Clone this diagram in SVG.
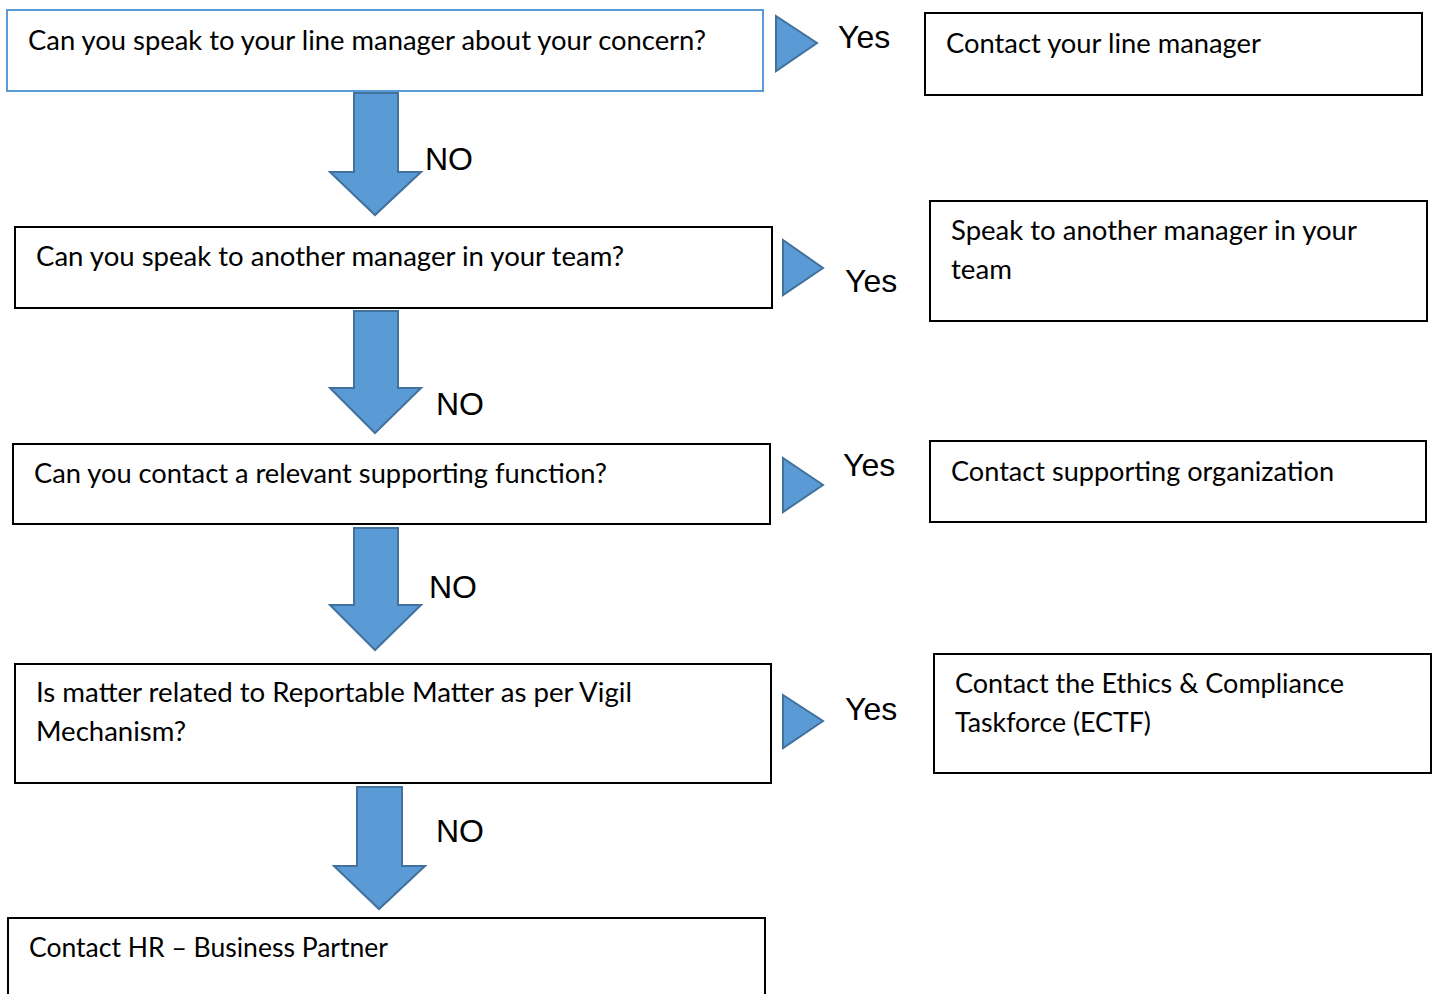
<svg xmlns="http://www.w3.org/2000/svg" width="1435" height="994" viewBox="0 0 1435 994">
<style>
.box{fill:#fff;stroke:#000;stroke-width:2}
.box1{fill:#fff;stroke:#5B9BD5;stroke-width:2}
.t{font-family:Lato,"Liberation Sans",sans-serif;font-size:26px;fill:#000}
.lbl{font-family:"Liberation Sans",Arial,sans-serif;font-size:32px;fill:#000}
.arr{fill:#5B9BD5;stroke:#41719C;stroke-width:2;stroke-linejoin:miter}
</style>
<rect width="1435" height="994" fill="#fff"/>
<g id="q1"><rect class="box1" x="7" y="10" width="756" height="81"/><text class="t" x="28" y="50" textLength="678" lengthAdjust="spacingAndGlyphs">Can you speak to your line manager about your concern?</text></g>
<g id="a1"><rect class="box" x="925" y="13" width="497" height="82"/><text class="t" x="946" y="53" textLength="315" lengthAdjust="spacingAndGlyphs">Contact your line manager</text></g>
<g id="q2"><rect class="box" x="15" y="227" width="757" height="81"/><text class="t" x="36" y="266" textLength="588" lengthAdjust="spacingAndGlyphs">Can you speak to another manager in your team?</text></g>
<g id="a2"><rect class="box" x="930" y="201" width="497" height="120"/><text class="t" x="951" y="240" textLength="406" lengthAdjust="spacingAndGlyphs">Speak to another manager in your</text><text class="t" x="951" y="279" textLength="61" lengthAdjust="spacingAndGlyphs">team</text></g>
<g id="q3"><rect class="box" x="13" y="444" width="757" height="80"/><text class="t" x="34" y="483" textLength="573" lengthAdjust="spacingAndGlyphs">Can you contact a relevant supporting function?</text></g>
<g id="a3"><rect class="box" x="930" y="441" width="496" height="81"/><text class="t" x="951" y="481" textLength="383" lengthAdjust="spacingAndGlyphs">Contact supporting organization</text></g>
<g id="q4"><rect class="box" x="15" y="664" width="756" height="119"/><text class="t" x="36" y="702" textLength="596" lengthAdjust="spacingAndGlyphs">Is matter related to Reportable Matter as per Vigil</text><text class="t" x="36" y="741" textLength="150" lengthAdjust="spacingAndGlyphs">Mechanism?</text></g>
<g id="a4"><rect class="box" x="934" y="654" width="497" height="119"/><text class="t" x="955" y="693" textLength="389" lengthAdjust="spacingAndGlyphs">Contact the Ethics &amp; Compliance</text><text class="t" x="955" y="732" textLength="196" lengthAdjust="spacingAndGlyphs">Taskforce (ECTF)</text></g>
<g id="q5"><rect class="box" x="8" y="918" width="757" height="90"/><text class="t" x="29" y="957" textLength="359" lengthAdjust="spacingAndGlyphs">Contact HR – Business Partner</text></g>
<g id="connectors">
<polygon class="arr" points="776,16 817,43 776,71"/>
<text class="lbl" x="838" y="48">Yes</text>
<polygon class="arr" points="783,240 823,268 783,295"/>
<text class="lbl" x="845" y="292">Yes</text>
<polygon class="arr" points="783,458 823,485 783,512"/>
<text class="lbl" x="843" y="476">Yes</text>
<polygon class="arr" points="783,695 823,721 783,748"/>
<text class="lbl" x="845" y="720">Yes</text>
<polygon class="arr" points="354,93 398,93 398,172 421,172 375,215 330,172 354,172"/>
<text class="lbl" x="425" y="170">NO</text>
<polygon class="arr" points="354,311 398,311 398,388 421,388 375,433 330,388 354,388"/>
<text class="lbl" x="436" y="415">NO</text>
<polygon class="arr" points="354,528 398,528 398,605 421,605 375,650 330,605 354,605"/>
<text class="lbl" x="429" y="598">NO</text>
<polygon class="arr" points="357,787 402,787 402,866 425,866 379,909 334,866 357,866"/>
<text class="lbl" x="436" y="842">NO</text>
</g>
</svg>
